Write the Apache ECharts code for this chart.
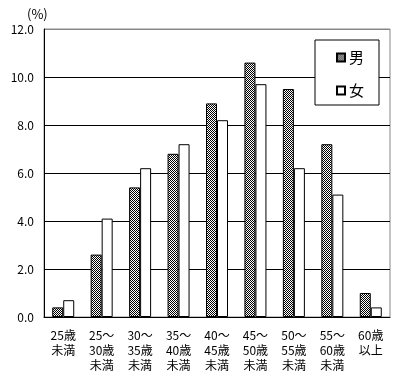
<!DOCTYPE html>
<html>
<head>
<meta charset="utf-8">
<script src="https://cdn.jsdelivr.net/npm/echarts@6/dist/echarts.min.js"></script>
<style>html,body{margin:0;padding:0;background:#fff}#c{width:403px;height:380px}</style>
</head>
<body>
<div id="c"></div>
<script>
var categories = ['25歳\n未満','25～\n30歳\n未満','30～\n35歳\n未満','35～\n40歳\n未満','40～\n45歳\n未満','45～\n50歳\n未満','50～\n55歳\n未満','55～\n60歳\n未満','60歳\n以上'];
var maleValues = [0.4, 2.6, 5.4, 6.8, 8.9, 10.6, 9.5, 7.2, 1.0];
var femaleValues = [0.7, 4.1, 6.2, 7.2, 8.2, 9.7, 6.2, 5.1, 0.4];
var seriesNames = ['男','女'];

var pc = document.createElement('canvas');
pc.width = 2; pc.height = 2;
var px = pc.getContext('2d');
px.fillStyle = '#ffffff'; px.fillRect(0,0,2,2);
px.fillStyle = '#000000'; px.fillRect(0,0,1,1); px.fillRect(1,1,1,1);

var font = '"MS Gothic","Noto Sans CJK JP",sans-serif';
var chart = echarts.init(document.getElementById('c'), null, {renderer:'canvas'});
chart.setOption({
  animation:false,
  backgroundColor:'#fff',
  grid:{left:44,right:13,top:29,bottom:63,show:true,borderColor:'#888',borderWidth:1,backgroundColor:'transparent'},
  graphic:[{type:'text',left:27,top:8,style:{text:'(%)',font:'13px '+font,fill:'#000'}}],
  legend:{
    orient:'vertical',left:315,top:40,width:64,
    backgroundColor:'#fff',borderColor:'#000',borderWidth:1,
    padding:[10,15,7,21],itemGap:18,itemWidth:8,itemHeight:8,
    icon:'rect',
    textStyle:{fontSize:15,fontFamily:font,color:'#000',padding:[0,0,0,-1]},
    data:seriesNames
  },
  xAxis:{
    type:'category',data:categories,
    axisLine:{lineStyle:{color:'#000',width:1}},
    axisTick:{inside:true,length:4,lineStyle:{color:'#000'}},
    axisLabel:{fontSize:12,fontFamily:font,color:'#000',lineHeight:15,margin:11,interval:0}
  },
  yAxis:{
    type:'value',min:0,max:12,interval:2,
    axisLine:{show:true,lineStyle:{color:'#000'}},
    axisTick:{show:false},
    axisLabel:{fontSize:12,fontFamily:font,color:'#000',margin:10,formatter:function(v){return v.toFixed(1);}},
    splitLine:{lineStyle:{color:['#000','#000','#000','#000','#000','#000','#888'],width:1}}
  },
  series:[
    {name:seriesNames[0],type:'bar',data:maleValues,barWidth:11,barGap:'0%',
     itemStyle:{color:{image:pc,repeat:'repeat'},borderColor:'#000',borderWidth:1}},
    {name:seriesNames[1],type:'bar',data:femaleValues,barWidth:11,barGap:'0%',
     itemStyle:{color:'#fff',borderColor:'#000',borderWidth:1}}
  ]
});
</script>
</body>
</html>
